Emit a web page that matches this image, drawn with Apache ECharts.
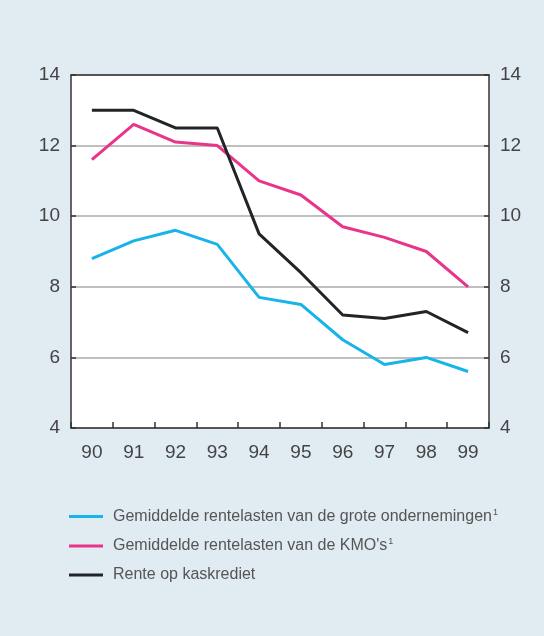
<!DOCTYPE html>
<html>
<head>
<meta charset="UTF-8">
<title></title>
<style>
html,body{margin:0;padding:0;background:#fff;}
#charts{width:544px;height:636px;}
</style>
</head>
<body>
<div id="charts"></div>
<script src="https://cdn.jsdelivr.net/npm/echarts@6/dist/echarts.min.js"></script>
<script>
var years = ['90', '91', '92', '93', '94', '95', '96', '97', '98', '99'];
var groteOndernemingen = [8.8, 9.3, 9.6, 9.2, 7.7, 7.5, 6.5, 5.8, 6.0, 5.6];
var kmos = [11.6, 12.6, 12.1, 12.0, 11.0, 10.6, 9.7, 9.4, 9.0, 8.0];
var kaskrediet = [13.0, 13.0, 12.5, 12.5, 9.5, 8.4, 7.2, 7.1, 7.3, 6.7];

var mycharts = echarts.init(document.getElementById('charts'));

var txt = '#444';
var font = 'Liberation Sans';

function yAxis(pos) {
    return {
        type: 'value',
        position: pos,
        min: 4,
        max: 14,
        interval: 2,
        axisLine: {show: true, lineStyle: {color: '#333', width: 1.5}},
        axisTick: {show: true, inside: true, length: 5, lineStyle: {color: '#333', width: 1.5}},
        axisLabel: {color: txt, fontSize: 19, fontFamily: font, margin: 11},
        splitLine: {show: pos == 'left', lineStyle: {color: '#aaa', width: 1.5}}
    };
}

function serie(name, data, color) {
    return {
        name: name,
        type: 'line',
        data: data,
        symbol: 'none',
        lineStyle: {color: color, width: 3},
        itemStyle: {color: color}
    };
}

var option = {
    backgroundColor: '#e1ebf2',
    animation: false,
    grid: {left: 71, right: 55, top: 75, bottom: 208, show: true, backgroundColor: '#fff', borderWidth: 0},
    xAxis: [{
        type: 'category',
        data: years,
        boundaryGap: true,
        axisLine: {show: true, lineStyle: {color: '#333', width: 1.5}},
        axisTick: {show: true, inside: true, length: 6, lineStyle: {color: '#333', width: 1.5}},
        axisLabel: {color: txt, fontSize: 19, fontFamily: font, margin: 15},
        splitLine: {show: false}
    }, {
        type: 'category',
        data: years,
        position: 'top',
        axisLine: {show: true, lineStyle: {color: '#333', width: 1.5}},
        axisTick: {show: false},
        axisLabel: {show: false}
    }],
    yAxis: [yAxis('left'), yAxis('right')],
    legend: {
        orient: 'vertical',
        left: 69,
        top: 508,
        padding: 0,
        itemWidth: 34,
        itemHeight: 3,
        itemGap: 13,
        icon: 'rect',
        textStyle: {
            color: '#555', fontSize: 16, fontFamily: font, padding: [0, 0, 0, 5],
            rich: {s: {fontSize: 9, verticalAlign: 'top', color: '#555', padding: [0, 0, 8, 1]}}
        },
        formatter: function (n) {
            return n == 'Rente op kaskrediet' ? n : n + '{s|1}';
        },
        data: ['Gemiddelde rentelasten van de grote ondernemingen', 'Gemiddelde rentelasten van de KMO\'s', 'Rente op kaskrediet']
    },
    series: [
        serie('Gemiddelde rentelasten van de grote ondernemingen', groteOndernemingen, '#17b4e9'),
        serie('Gemiddelde rentelasten van de KMO\'s', kmos, '#e8358a'),
        serie('Rente op kaskrediet', kaskrediet, '#222528')
    ]
};
mycharts.setOption(option);
</script>
</body>
</html>
